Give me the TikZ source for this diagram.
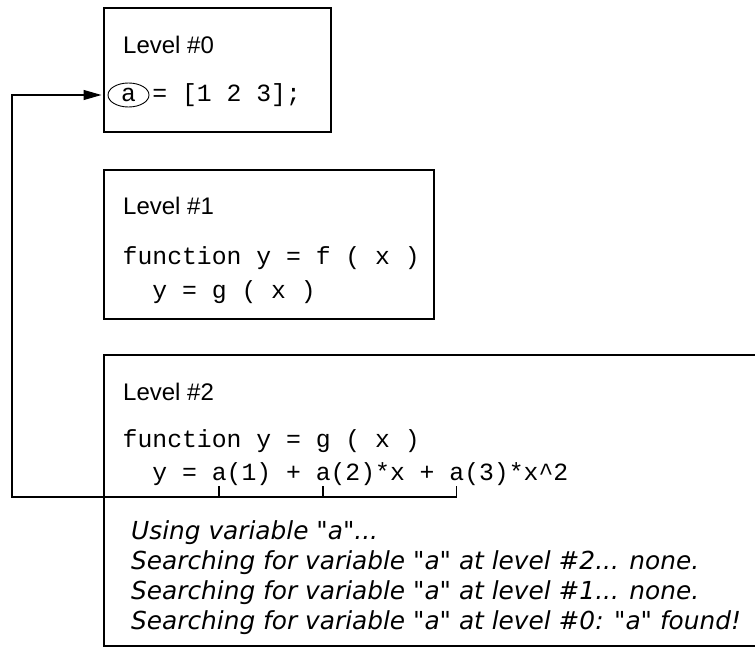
\documentclass[tikz,border=0pt]{standalone}
\usepackage{fontspec}
\setmainfont{Liberation Sans}
\setmonofont{Liberation Mono}
\newfontfamily\notafont{DejaVu Sans}
\usetikzlibrary{arrows.meta,shapes.geometric}
\newcommand\codigofont{\fontsize{24.75}{28}\selectfont\ttfamily}
\newcommand\ancho{14.85}
\begin{document}
\begin{tikzpicture}[
    x=1pt,
    y=-1pt,
    >={Triangle[length=18pt,width=10pt]},
    caja/.style={draw,line width=2pt,anchor=north west,inner sep=0pt},
    nivel/.style={anchor=base west,inner sep=0pt,font=\fontsize{24}{28}\selectfont},
    codigo/.style={anchor=base west,inner sep=0pt,font=\codigofont},
    nota/.style={anchor=base west,inner sep=0pt,font=\fontsize{24.8}{29}\selectfont\notafont\itshape},
    enlace/.style={line width=1.2pt}
]
    \useasboundingbox (0,0) rectangle (755,653);
    \clip (0,0) rectangle (755,653);

    % Nivel 0
    \node[caja,minimum width=227,minimum height=124] (box0) at (103,7) {};
    \node[nivel] (lv0) at (123,53) {Level \#0};
    \node[draw,ellipse,line width=0.9pt,minimum width=41,minimum height=24,
        inner sep=0pt,font=\codigofont] (a0) at (128.5,95) {a};
    \node[codigo] (c0) at ({122.5+2*\ancho},101) {= [1 2 3];};

    % Nivel 1
    \node[caja,minimum width=330,minimum height=149] (box1) at (103,169) {};
    \node[nivel] (lv1) at (123,214) {Level \#1};
    \node[codigo] (f1a) at (122.5,264) {function y = f ( x )};
    \node[codigo] (f1b) at (122.5,298) {\ \ y = g ( x )};

    % Nivel 2
    \node[caja,minimum width=670,minimum height=291] (box2) at (103,354) {};
    \node[nivel] (lv2) at (123,400) {Level \#2};
    \node[codigo] (f2a) at (122.5,447) {function y = g ( x )};
    \node[codigo] (f2b) at (122.5,480)
        {\ \ y = a(1) + a(2)*x + a(3)*x\textasciicircum 2};

    % Mensajes de busqueda
    \node[nota] (m1) at (131,539) {Using variable "a"...};
    \node[nota] (m2) at (131,569) {Searching for variable "a" at level \#2... none.};
    \node[nota] (m3) at (131,599) {Searching for variable "a" at level \#1... none.};
    \node[nota] (m4) at (131,629) {Searching for variable "a" at level \#0: "a" found!};

    % Enlace hacia el nivel 0
    \coordinate (t1) at ({122.5+6.5*\ancho},486);
    \coordinate (t2) at ({122.5+13.5*\ancho},486);
    \coordinate (t3) at ({122.5+22.5*\ancho},486);
    \coordinate (codo) at (12,497);
    \draw[enlace,->,shorten >=1.5pt] (t3) |- (codo) |- (box0.west |- a0);
    \draw[enlace] (t1) -- (t1 |- codo);
    \draw[enlace] (t2) -- (t2 |- codo);
\end{tikzpicture}
\end{document}
